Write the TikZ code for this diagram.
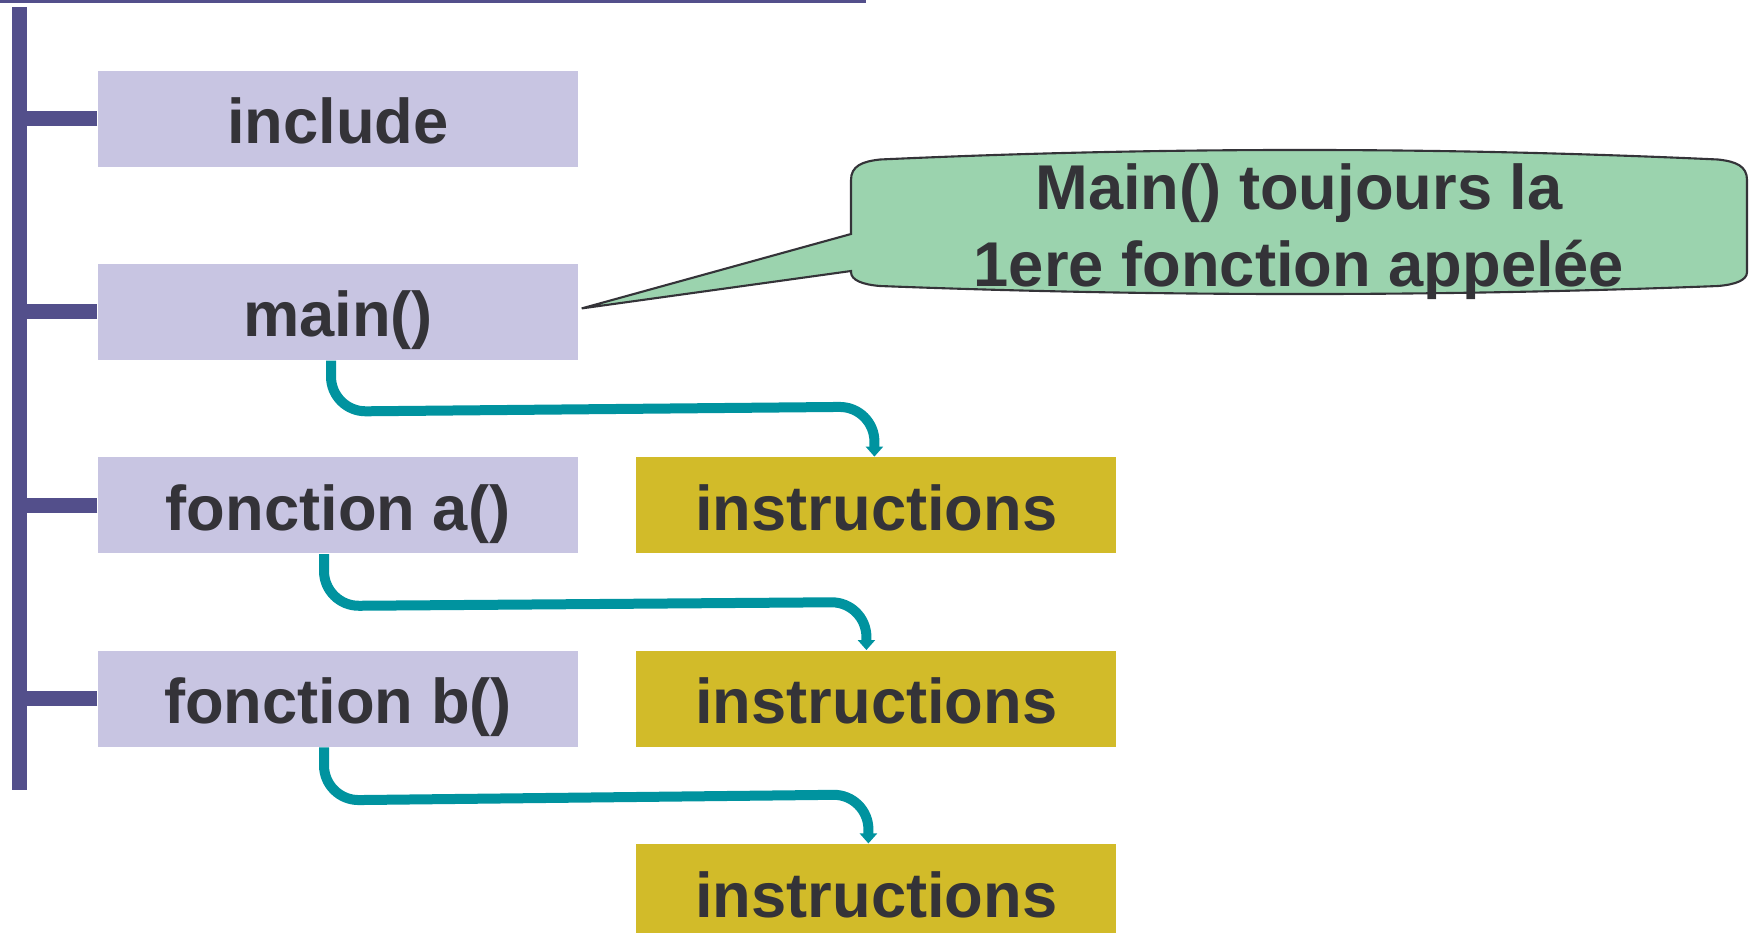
\documentclass[tikz,border=0pt]{standalone}
\usepackage{fontspec}
\setmainfont{Liberation Sans}
\usepackage{tikz}
\usetikzlibrary{arrows.meta, positioning}
\usepackage{xcolor}
\definecolor{barblue}{HTML}{534F8B}
\definecolor{lilac}{HTML}{C8C5E2}
\definecolor{mustard}{HTML}{D2BB29}
\definecolor{mint}{HTML}{9BD3AE}
\definecolor{teal}{HTML}{00939F}
\definecolor{ink}{HTML}{343338}

\begin{document}
\begin{tikzpicture}[
node distance=0.96cm and 0.57cm,
box/.style={rectangle, text=ink, font=\fontsize{18}{21.9}\selectfont\bfseries, minimum width=4.8cm, minimum height=0.96cm, inner sep=0pt, text height=0.5cm, text depth=0pt},
func/.style={box, fill=lilac},
instr/.style={box, fill=mustard},
spine/.style={draw=barblue, line width=0.15cm},
flow/.style={draw=teal, line width=0.1cm, rounded corners=0.35cm, -{Triangle[length=0.1cm, width=0.17cm]}},
callout/.style={draw=ink, line width=0.6pt, fill=mint}
]
    \useasboundingbox (0,0) rectangle (17.53,-9.32);

    \draw[draw=barblue, line width=0.03cm] (0,-0.015) -- (8.66,-0.015);
    \coordinate (spinetop) at (0.19,-0.07);
    \coordinate (spinebot) at (0.19,-7.90);
    \draw[spine] (spinetop) -- (spinebot);

    \node[func] (inc) at (3.38,-1.185) {include};
    \node[func, below=of inc] (main) {main()};
    \node[func, below=of main] (fa) {fonction a()};
    \node[func, below=of fa] (fb) {fonction b()};
    \node[instr, right=of fa] (ia) {instructions};
    \node[instr, right=of fb] (ib) {instructions};
    \node[instr, below=of ib] (ic) {instructions};

    \foreach \n in {inc, main, fa, fb}
        \draw[spine] (\n.west) -- (\n.west -| spinetop);

    \draw[flow] ([xshift=-0.07cm]main.south) -- ([xshift=-0.07cm, yshift=-0.51cm]main.south) -- ([xshift=-0.02cm, yshift=0.5cm]ia.north) -- ([xshift=-0.02cm]ia.north);
    \draw[flow] ([xshift=-0.14cm]fa.south) -- ([xshift=-0.14cm, yshift=-0.52cm]fa.south) -- ([xshift=-0.1cm, yshift=0.48cm]ib.north) -- ([xshift=-0.1cm]ib.north);
    \draw[flow] ([xshift=-0.14cm]fb.south) -- ([xshift=-0.14cm, yshift=-0.53cm]fb.south) -- ([xshift=-0.08cm, yshift=0.49cm]ic.north) -- ([xshift=-0.08cm]ic.north);

    % bulle
    \coordinate (tip) at ([shift={(0.03cm,0.035cm)}]main.east);
    \draw[callout] (tip) -- (8.51,-2.34) -- (8.51,-1.80)
        .. controls (8.51,-1.66) and (8.62,-1.615) .. (8.80,-1.595)
        .. controls (11.6,-1.468) and (14.4,-1.468) .. (17.18,-1.595)
        .. controls (17.36,-1.615) and (17.47,-1.66) .. (17.47,-1.80)
        -- (17.47,-2.72)
        .. controls (17.47,-2.80) and (17.36,-2.845) .. (17.18,-2.86)
        .. controls (14.4,-2.967) and (11.6,-2.967) .. (8.80,-2.86)
        .. controls (8.62,-2.845) and (8.51,-2.80) .. (8.51,-2.72)
        -- (8.51,-2.71) -- cycle;
    \node[text=ink, font=\fontsize{18}{21.9}\selectfont\bfseries, align=center, inner sep=0pt] (note) at (12.99,-2.32) {Main() toujours la\\1ere fonction appelée};

\end{tikzpicture}
\end{document}
